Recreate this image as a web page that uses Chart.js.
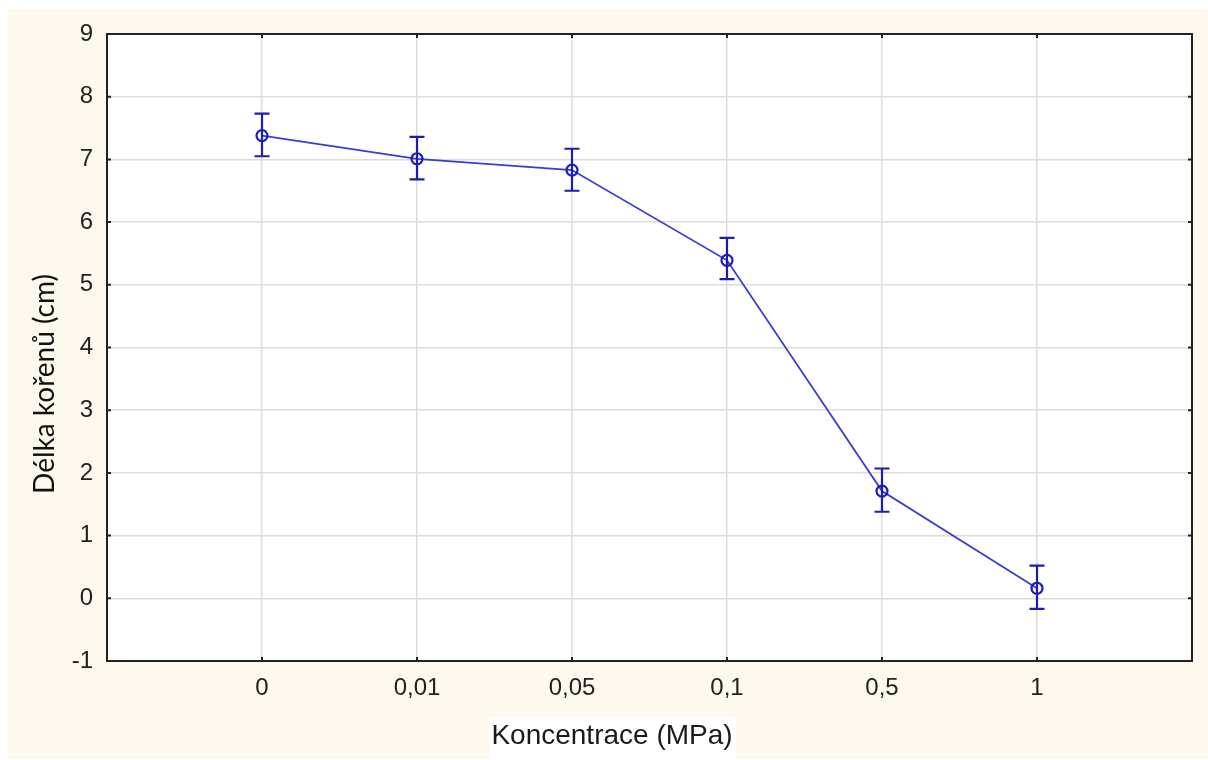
<!DOCTYPE html>
<html>
<head>
<meta charset="utf-8">
<script src="https://cdn.jsdelivr.net/npm/chart.js@4"></script>
<style>
    body { margin: 0; background: #ffffff; }
    #wrap { width: 1208px; height: 760px; }
</style>
</head>
<body>
<div id="wrap"><canvas id="rootChart" width="1208" height="760"></canvas></div>
<script>
// Concentrations (category labels) and measured root lengths
const concLabels = ["0", "0,01", "0,05", "0,1", "0,5", "1"];
const meanLength = [7.38, 7.01, 6.83, 5.39, 1.71, 0.16];
const upperErr = [7.73, 7.36, 7.17, 5.75, 2.07, 0.52];
const lowerErr = [7.05, 6.68, 6.50, 5.09, 1.38, -0.17];
const yTicks = [-1, 0, 1, 2, 3, 4, 5, 6, 7, 8, 9];
const xTitle = "Koncentrace (MPa)";
const yTitle = "Délka kořenů (cm)";

const points = meanLength.map((v, i) => ({ x: i, y: v }));

// Background, frame, inward tick marks, error bars and axis titles
const framePlugin = {
    id: "framePlugin",
    beforeDraw(chart) {
        const ctx = chart.ctx;
        const area = chart.chartArea;
        ctx.save();
        ctx.fillStyle = "#fdf9ef";
        ctx.fillRect(8, 9, 1200, 750);
        ctx.fillStyle = "#ffffff";
        ctx.fillRect(area.left, area.top, area.right - area.left, area.bottom - area.top);
        // white box under the x title
        ctx.fillRect(489, 717, 247, 43);
        ctx.restore();
    },
    afterDatasetsDraw(chart) {
        const ctx = chart.ctx;
        const xs = chart.scales.x;
        const ys = chart.scales.y;
        ctx.save();
        ctx.strokeStyle = "#1c1cb0";
        ctx.lineWidth = 2.2;
        upperErr.forEach((hi, i) => {
            const px = xs.getPixelForValue(i);
            const top = ys.getPixelForValue(hi);
            const bot = ys.getPixelForValue(lowerErr[i]);
            ctx.beginPath();
            ctx.moveTo(px, top);
            ctx.lineTo(px, bot);
            ctx.moveTo(px - 7.5, top);
            ctx.lineTo(px + 7.5, top);
            ctx.moveTo(px - 7.5, bot);
            ctx.lineTo(px + 7.5, bot);
            ctx.stroke();
        });
        ctx.restore();
    },
    afterDraw(chart) {
        const ctx = chart.ctx;
        const area = chart.chartArea;
        const xs = chart.scales.x;
        const ys = chart.scales.y;
        ctx.save();
        ctx.strokeStyle = "#222222";
        ctx.lineWidth = 2;
        ctx.strokeRect(area.left, area.top, area.right - area.left, area.bottom - area.top);
        ctx.beginPath();
        yTicks.forEach(t => {
            const py = ys.getPixelForValue(t);
            ctx.moveTo(area.left, py);
            ctx.lineTo(area.left + 4, py);
            ctx.moveTo(area.right, py);
            ctx.lineTo(area.right - 4, py);
        });
        concLabels.forEach((l, i) => {
            const px = xs.getPixelForValue(i);
            ctx.moveTo(px, area.top);
            ctx.lineTo(px, area.top + 4);
            ctx.moveTo(px, area.bottom);
            ctx.lineTo(px, area.bottom - 4);
        });
        ctx.stroke();

        // axis titles
        ctx.fillStyle = "#1a1a1a";
        ctx.textAlign = "center";
        ctx.textBaseline = "middle";
        ctx.font = "28px 'Liberation Sans', Arial";
        ctx.fillText(xTitle, 612, 736);
        ctx.translate(45, 384);
        ctx.rotate(-Math.PI / 2);
        ctx.fillStyle = "#111111";
        ctx.font = "28px Lato";
        ctx.fillText(yTitle, 0, 0);
        ctx.restore();
    }
};

new Chart(document.getElementById("rootChart"), {
    type: "line",
    data: {
        datasets: [{
            data: points,
            borderColor: "#3a3ad8",
            borderWidth: 1.8,
            pointRadius: 5.5,
            pointBorderWidth: 2.2,
            pointBorderColor: "#1c1cc0",
            pointBackgroundColor: "rgba(255,255,255,0)",
            tension: 0
        }]
    },
    options: {
        responsive: false,
        animation: false,
        layout: { padding: { left: 0, top: 34, right: 16, bottom: 0 } },
        plugins: {
            legend: { display: false },
            tooltip: { enabled: false }
        },
        scales: {
            x: {
                type: "linear",
                min: -1,
                max: 6,
                afterFit: s => { s.height = 99; },
                afterBuildTicks: s => { s.ticks = [-1, 0, 1, 2, 3, 4, 5, 6].map(v => ({ value: v })); },
                border: { display: false },
                grid: { color: "#dcdcdc", lineWidth: 1.5, drawTicks: false },
                ticks: {
                    padding: 13,
                    color: "#222222",
                    font: { family: "Liberation Sans, Arial", size: 24 },
                    callback: v => concLabels[v] ?? ""
                }
            },
            y: {
                min: -1,
                max: 9,
                afterFit: s => { s.width = 107; },
                border: { display: false },
                grid: { color: "#dcdcdc", lineWidth: 1.5, drawTicks: false },
                ticks: {
                    stepSize: 1,
                    padding: 14,
                    color: "#222222",
                    font: { family: "Liberation Sans, Arial", size: 24 }
                }
            }
        }
    },
    plugins: [framePlugin]
});
</script>
</body>
</html>
